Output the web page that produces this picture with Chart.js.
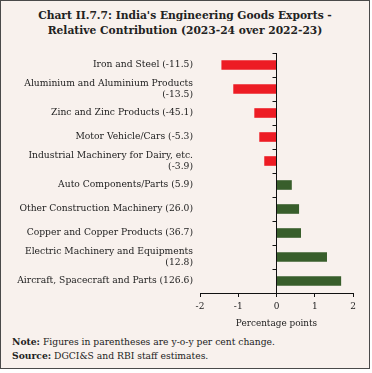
<!DOCTYPE html>
<html>
<head>
<meta charset="utf-8">
<script src="https://cdn.jsdelivr.net/npm/chart.js@4.4.1/dist/chart.umd.min.js"></script>
<style>
  html, body { margin: 0; padding: 0; background: #fff; }
  #frame {
    position: absolute; left: 0; top: 0;
    width: 368px; height: 367px;
    border: 1.5px solid #4a4a4a;
    background: #f8f1ed;
    font-family: "DejaVu Serif", serif;
    color: #222;
  }
  #title {
    position: absolute; left: 0; top: 7px; width: 368px;
    text-align: center; font-weight: bold; font-size: 10.7px; line-height: 15px;
  }
  #note {
    position: absolute; left: 11px; top: 334px;
    font-size: 9.2px; line-height: 14px;
  }
  #chart { position: absolute; left: 0; top: 0; }
</style>
</head>
<body>
<div id="frame">
  <div id="title">Chart II.7.7: India's Engineering Goods Exports -<br>Relative Contribution (2023-24 over 2022-23)</div>
  <div id="note"><b>Note:</b> Figures in parentheses are y-o-y per cent change.<br><b>Source:</b> DGCI&amp;S and RBI staff estimates.</div>
</div>
<canvas id="chart" width="372" height="373"></canvas>
<script>
// categories and values (percentage points)
const categories = [
  ['Iron and Steel (-11.5)'],
  ['Aluminium and Aluminium Products', '(-13.5)'],
  ['Zinc and Zinc Products (-45.1)'],
  ['Motor Vehicle/Cars (-5.3)'],
  ['Industrial Machinery for Dairy, etc.', '(-3.9)'],
  ['Auto Components/Parts (5.9)'],
  ['Other Construction Machinery (26.0)'],
  ['Copper and Copper Products (36.7)'],
  ['Electric Machinery and Equipments', '(12.8)'],
  ['Aircraft, Spacecraft and Parts (126.6)']
];
const contribution = [-1.44, -1.13, -0.58, -0.45, -0.32, 0.40, 0.59, 0.64, 1.32, 1.69];
const xTicks = [-2, -1, 0, 1, 2];

const RED = '#ed1c24', GREEN = '#385e2b';

// zero line with small ticks between categories
const zeroAxis = {
  id: 'zeroAxis',
  afterDatasetsDraw(chart) {
    const x = chart.scales.x, y = chart.scales.y, ctx = chart.ctx;
    const x0 = x.getPixelForValue(0);
    ctx.save();
    ctx.strokeStyle = '#111';
    ctx.lineWidth = 1;
    ctx.beginPath();
    ctx.moveTo(x0, chart.chartArea.top);
    ctx.lineTo(x0, chart.chartArea.bottom);
    for (let i = 0; i <= categories.length; i++) {
      const py = Math.round(y.getPixelForValue(i - 0.5)) + 0.5;
      ctx.moveTo(x0 - 4, py);
      ctx.lineTo(x0, py);
    }
    ctx.stroke();
    ctx.restore();
  }
};

new Chart(document.getElementById('chart'), {
  type: 'bar',
  data: {
    labels: categories,
    datasets: [{
      data: contribution,
      backgroundColor: contribution.map(v => v < 0 ? RED : GREEN),
      categoryPercentage: 1,
      barPercentage: 0.4
    }]
  },
  options: {
    indexAxis: 'y',
    responsive: false,
    animation: false,
    layout: { padding: { left: 0, right: 19, top: 53, bottom: 44 } },
    plugins: { legend: { display: false }, tooltip: { enabled: false } },
    scales: {
      x: {
        min: -2, max: 2,
        afterBuildTicks: s => { s.ticks = xTicks.map(v => ({ value: v })); },
        afterFit: s => { s.height = 36; },
        border: { display: true, color: '#111', width: 1 },
        grid: { display: true, drawOnChartArea: false, drawTicks: true, tickLength: 4, color: '#111' },
        ticks: { color: '#222', padding: 4, font: { family: 'DejaVu Serif', size: 9 } },
        title: {
          display: true, text: 'Percentage points', color: '#222',
          padding: { top: 4, bottom: 0 },
          font: { family: 'DejaVu Serif', size: 8.9 }
        }
      },
      y: {
        afterFit: s => { s.width = 200; },
        border: { display: false },
        grid: { display: false, drawTicks: false },
        ticks: {
          color: '#222', padding: 7, autoSkip: false,
          font: { family: 'DejaVu Serif', size: 9.2, lineHeight: 1.2 }
        }
      }
    }
  },
  plugins: [zeroAxis]
});
</script>
</body>
</html>
